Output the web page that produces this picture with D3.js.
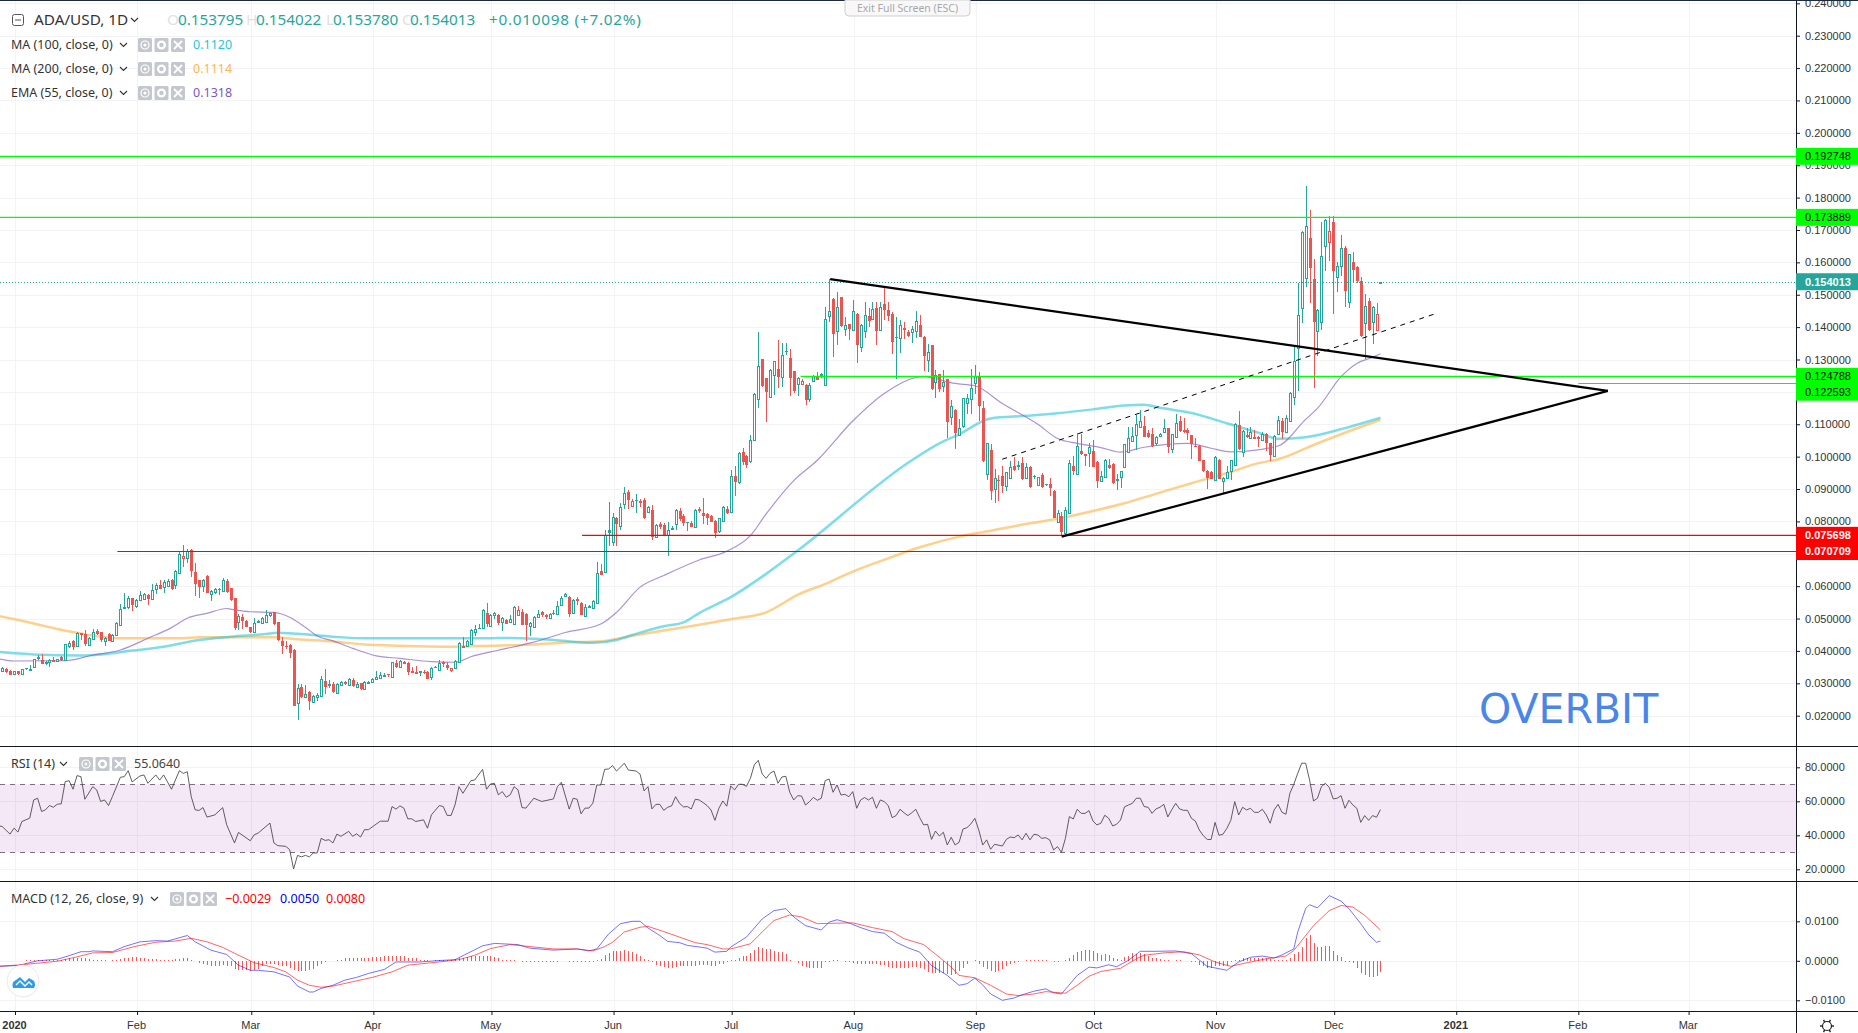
<!DOCTYPE html>
<html>
<head>
<meta charset="utf-8">
<script src="https://cdnjs.cloudflare.com/ajax/libs/d3/7.8.5/d3.min.js"></script>
<style>
  html, body { margin: 0; padding: 0; background: #fff; }
  svg { display: block; }
  text { font-family: "Noto Sans", sans-serif; }
  .axis text { font-family: "Liberation Sans", Arial, sans-serif; font-size: 11px; fill: #333; }
  .axis line { stroke: #131722; }
</style>
</head>
<body>
<svg id="chart" width="1858" height="1033"></svg>
<script>
// all prices are in thousandths of a dollar, days count from 2020-01-01
var firstDay = -3;
var opens = [33.8,34.3,33.8,32.8,33.7,32.8,34.7,34.4,34.8,38.1,
37.2,36.4,36.4,37.2,36.7,38.0,37.0,41.8,43.0,41.6,
45.4,45.2,41.9,43.8,46.1,45.7,43.1,45.2,43.2,44.8,
47.8,53.5,53.4,56.2,54.0,55.9,56.0,57.3,55.9,59.2,
60.4,59.8,60.1,61.9,60.5,64.0,68.5,68.9,71.2,64.3,
61.9,60.0,63.1,57.4,58.2,59.0,58.4,61.6,59.3,56.2,
49.1,50.4,49.3,47.3,45.7,49.3,48.8,49.0,51.1,52.0,
48.8,43.1,41.6,41.8,40.3,23.8,28.9,25.9,27.2,24.4,
25.9,26.2,30.7,29.6,29.8,27.1,29.5,30.4,29.5,30.9,
28.7,30.0,28.1,30.2,30.4,31.1,31.7,32.6,32.8,32.0,
36.3,35.1,36.7,36.4,33.8,33.6,33.5,33.4,33.6,32.0,
35.0,34.3,36.7,35.7,34.0,34.6,36.8,41.6,41.5,42.3,
45.9,47.2,46.8,51.6,47.8,50.9,51.1,
49.1,49.7,48.9,48.6,51.2,52.1,51.5,47.6,47.6,50.4,
51.9,51.2,50.1,51.8,51.3,54.0,57.0,56.8,51.8,55.9,
54.9,51.0,53.5,53.4,55.0,64.8,64.5,77.2,73.8,81.0,
78.5,85.4,89.0,84.9,86.7,86.4,86.7,82.8,83.6,75.1,
79.3,79.0,75.9,77.9,79.2,83.3,81.8,79.8,79.6,78.2,
83.7,82.6,82.4,81.7,80.2,77.0,80.1,83.8,82.8,94.0,92.0,
101.5,100.2,98.5,105.3,117.9,130.1,124.2,118.5,125.2,127.0,
124.5,132.6,130.6,126.3,122.3,122.5,122.1,117.7,123.5,124.7,
125.4,122.0,143.6,148.6,138.7,149.2,139.6,140.9,139.1,144.2,
133.9,138.7,143.4,142.7,146.0,138.9,147.1,145.3,144.0,137.1,
136.7,139.7,138.4,138.4,138.7,140.8,137.1,129.6,134.4,122.9,
125.4,121.7,123.9,112.3,114.4,106.8,109.2,116.4,117.7,122.7,
124.9,114.9,94.6,102.0,90.0,92.9,94.1,91.0,93.5,97.1,
97.2,98.0,93.6,96.8,94.1,91.1,94.3,91.4,91.4,89.4,
79.8,81.7,76.5,82.5,97.1,94.8,101.6,100.8,101.2,101.7,
98.4,92.6,93.6,97.4,97.7,93.0,93.6,96.7,101.3,104.9,
106.7,109.3,109.5,107.2,107.1,104.3,106.3,107.4,108.7,102.3,
105.9,111.0,108.2,108.2,106.6,103.2,103.3,98.9,95.6,95.3,
93.0,99.0,92.5,93.7,95.4,97.4,109.8,101.5,106.6,105.5,
106.2,106.1,104.9,107.0,104.1,100.3,106.9,111.0,107.7,111.3,
118.5,133.6,146.0,155.1,167.4,154.9,138.9,141.7,165.1,166.4,
172.5,155.3,158.7,164.4,147.8,160.1,158.7,154.2,141.4,148.1,
141.6,139.1,153.795];
var highs = [34.9,34.6,34.0,33.8,33.8,34.5,34.8,35.6,37.6,38.7,
39.0,36.9,37.4,38.1,37.6,38.3,42.2,43.2,43.4,46.0,
45.6,46.5,44.2,46.8,46.9,45.9,44.4,45.4,45.2,48.8,
54.5,57.8,57.1,56.5,56.0,58.5,57.9,57.6,60.7,61.0,
61.9,62.0,62.2,62.3,64.9,70.4,72.7,71.4,71.5,67.2,
62.0,62.1,63.6,58.8,59.4,59.3,62.4,62.2,59.5,56.4,
51.5,51.4,49.5,47.5,50.1,49.5,50.5,52.6,51.8,52.1,
49.0,44.2,43.1,42.0,40.5,29.8,29.7,29.5,27.5,26.4,
26.9,32.2,34.3,31.0,30.5,30.0,30.8,30.6,31.5,31.5,
30.3,30.2,30.6,30.6,31.5,33.8,33.4,33.1,33.0,36.7,
37.2,37.2,36.9,36.6,35.1,35.3,33.8,34.1,33.8,34.9,
35.2,37.2,36.9,36.7,34.7,37.1,42.8,44.2,43.4,46.7,
48.0,48.2,52.8,54.7,51.4,52.0,51.3,
50.4,50.0,51.2,53.9,54.0,53.0,51.7,48.9,50.9,52.5,
52.2,51.4,51.6,52.5,55.3,57.1,57.9,57.0,55.9,56.6,
55.1,54.5,54.1,55.7,67.6,66.7,77.4,86.1,82.5,81.5,
85.6,90.5,89.6,86.9,88.5,86.9,87.2,84.7,85.2,79.1,
79.7,79.4,79.9,78.7,83.7,84.2,82.3,79.9,80.0,83.8,
84.4,87.2,82.6,81.9,80.4,81.1,84.7,84.9,96.0,97.0,101.3,
102.6,100.4,106.7,119.7,138.6,130.3,124.4,127.1,129.6,136.0,
135.0,135.0,133.1,126.5,124.5,123.9,122.4,122.6,125.3,126.2,
125.7,146.3,154.8,149.0,150.9,149.4,143.2,141.1,148.4,144.4,
141.0,147.8,145.8,147.8,147.8,147.8,152.3,147.8,144.7,143.2,
142.2,141.7,139.1,140.3,145.1,143.7,137.3,134.8,134.6,126.7,
125.6,126.9,124.1,117.5,114.6,111.5,118.2,119.5,127.0,128.2,
126.2,117.2,104.3,103.9,96.1,94.3,97.1,95.4,98.8,100.0,
98.8,99.8,97.9,97.0,94.2,93.8,94.8,91.6,93.3,89.6,
83.5,83.0,84.4,98.9,100.3,107.2,106.9,100.8,104.1,105.1,
98.6,95.6,99.3,99.2,97.9,94.5,95.7,104.0,109.1,109.1,
112.9,114.4,112.6,108.2,109.0,106.4,107.4,111.5,108.9,107.1,
113.2,112.6,111.8,108.7,106.8,105.9,103.6,99.1,95.8,95.7,
100.2,99.2,93.6,97.1,99.1,110.3,114.2,108.1,108.7,109.1,
108.2,106.3,107.7,107.2,104.3,106.6,112.6,111.8,113.0,120.0,
134.5,153.5,169.6,183.6,176.2,161.0,145.5,172.6,173.3,174.3,
174.3,160.2,168.4,165.0,162.7,163.2,158.9,155.4,150.1,149.1,
146.4,147.3,154.022];
var lows = [33.6,33.2,32.6,32.6,32.6,32.7,34.2,34.3,34.7,37.3,
36.0,35.6,35.1,36.6,36.6,36.9,36.9,41.0,40.3,41.5,
43.4,41.5,41.7,43.6,45.0,42.8,41.6,43.0,43.1,44.6,
47.7,52.8,52.8,52.4,53.4,55.3,55.8,54.2,55.7,57.5,
59.0,57.8,60.0,58.7,59.0,63.9,66.0,67.2,62.9,56.9,
56.2,58.1,57.8,55.5,57.6,57.4,58.2,58.0,55.3,46.6,
46.5,46.8,47.3,45.4,45.5,48.5,48.6,48.9,50.4,48.0,
43.0,39.0,40.5,37.9,23.0,18.7,25.5,25.6,21.7,24.3,
24.6,26.0,26.7,28.4,27.1,27.0,29.3,29.6,29.3,28.8,
28.4,27.9,28.0,30.0,30.0,31.0,31.5,32.0,31.8,31.9,
34.7,35.0,35.9,32.6,33.2,32.9,32.2,33.0,31.3,31.0,
34.6,34.1,35.1,34.1,33.5,34.4,36.7,40.9,41.3,42.1,
44.5,46.8,46.7,47.5,47.6,50.0,48.0,
46.3,48.3,48.7,48.4,51.0,47.9,43.0,44.7,47.4,50.2,
50.4,49.9,50.0,51.2,51.1,53.8,56.8,50.4,51.6,54.3,
51.0,50.8,53.3,53.2,54.8,63.3,64.3,72.3,72.3,72.3,
77.2,83.8,83.9,84.6,82.5,84.6,80.8,82.5,74.3,75.0,
77.7,75.7,69.2,77.2,77.2,80.2,78.7,77.0,78.2,78.0,
82.6,79.2,78.9,79.7,74.9,76.3,79.9,82.3,82.6,87.8,91.5,
97.5,96.5,98.0,105.0,115.1,121.6,110.8,118.2,118.9,121.1,
121.6,131.5,118.7,119.8,118.7,122.2,115.9,117.0,123.3,123.6,
124.2,121.8,141.7,130.8,134.4,140.1,137.2,136.0,138.9,129.0,
132.4,136.5,140.1,142.5,134.4,138.7,142.2,142.0,131.7,124.1,
132.1,136.3,136.8,135.2,136.5,136.8,126.5,126.2,120.5,118.0,
120.0,120.0,105.8,109.7,102.3,106.6,109.0,113.3,113.3,119.5,
111.1,98.3,92.8,86.6,85.8,86.4,88.7,89.5,93.3,95.7,
96.0,92.9,93.4,90.4,93.0,90.9,90.3,90.8,87.9,81.0,
79.6,75.8,75.6,82.3,94.2,94.6,100.6,97.1,96.9,96.7,
90.2,92.4,93.4,96.2,91.5,89.7,90.2,96.5,101.1,104.7,
102.1,109.1,106.0,105.8,103.1,103.3,106.1,107.2,101.0,101.0,
105.7,107.6,107.3,105.1,99.4,102.9,98.6,95.4,89.9,93.0,
92.8,93.0,88.7,93.5,92.8,97.2,102.2,100.0,105.7,105.3,
105.3,102.9,104.7,101.8,98.8,99.8,106.7,105.5,107.5,111.1,
116.0,120.4,141.2,152.5,147.3,121.3,131.2,139.1,157.3,160.4,
144.0,150.9,155.9,146.3,146.0,153.5,153.7,137.0,130.1,138.9,
134.8,138.8,153.780];
var closes = [34.6,33.5,32.7,33.7,32.7,34.4,34.4,34.5,37.4,37.5,
36.1,36.6,37.1,36.7,37.4,37.0,42.0,42.6,41.3,45.5,
44.9,42.0,44.0,46.0,45.2,43.1,44.0,43.1,45.0,48.5,
52.8,53.0,56.2,54.1,55.7,57.3,57.6,56.0,58.7,60.3,
59.2,61.3,61.7,59.1,64.8,69.8,69.2,71.0,64.8,60.5,
59.8,61.8,58.0,58.4,59.0,58.8,61.9,58.2,55.5,47.0,
50.9,49.2,47.5,45.8,48.5,48.7,50.2,51.1,51.6,48.2,
43.1,41.6,41.4,39.4,23.1,28.4,25.7,26.7,24.5,26.1,
26.4,31.3,29.0,29.8,27.3,29.8,30.5,29.8,31.2,29.0,
29.7,28.0,30.4,30.4,31.2,31.8,32.7,32.7,32.6,36.5,
35.1,36.8,36.0,33.5,33.3,33.0,33.7,33.1,31.4,34.7,
34.8,36.4,36.0,34.8,34.7,36.9,42.6,41.1,43.1,46.5,
46.9,47.0,52.5,48.2,51.1,51.6,48.5,
50.2,48.5,49.9,53.7,52.7,48.1,48.0,48.6,50.6,51.4,
50.9,50.7,51.4,51.4,53.9,56.3,57.6,51.6,55.7,55.3,
51.2,53.7,53.9,55.5,64.2,63.5,75.8,76.3,81.5,79.3,
84.4,88.8,86.6,86.3,86.4,85.9,81.0,84.4,75.3,78.9,
78.5,75.9,77.4,78.0,83.5,80.9,79.5,79.7,78.4,83.6,
83.1,81.8,81.3,79.9,76.4,80.9,84.5,82.6,94.0,92.0,101.0,
98.5,97.5,105.1,119.5,128.0,121.8,120.0,126.7,129.4,124.5,
131.3,132.2,124.4,120.0,124.2,123.5,117.5,122.0,125.0,123.8,
124.5,142.4,145.0,137.9,146.1,140.3,140.8,139.5,145.0,134.6,
140.8,143.6,141.9,145.7,138.9,146.1,145.3,143.6,135.2,136.8,
140.8,139.2,137.2,139.3,141.8,137.0,131.1,132.2,120.7,125.2,
120.7,122.9,110.7,115.6,107.4,108.9,118.0,118.0,121.1,124.8,
115.7,98.5,104.1,89.4,93.3,92.6,91.0,95.2,96.8,95.9,
97.4,93.1,96.9,90.6,93.8,93.6,90.5,91.0,90.1,81.2,
82.6,76.8,83.5,97.9,95.6,103.3,100.8,100.3,102.9,96.9,
92.5,94.0,98.9,96.4,91.7,93.1,95.5,103.8,105.7,106.3,
110.0,111.0,106.2,106.0,103.3,106.2,106.9,108.7,102.8,106.9,
110.3,107.8,107.5,107.3,103.8,103.1,98.8,95.6,93.3,93.2,
100.0,93.2,93.4,95.4,98.9,110.1,102.4,107.9,105.9,107.5,
105.5,105.4,106.9,104.2,100.3,106.4,111.3,107.5,112.0,119.8,
129.5,143.7,169.4,171.1,158.0,141.7,145.3,162.0,173.1,169.7,
157.3,158.8,164.3,151.1,162.5,157.6,154.4,137.2,146.5,139.1,
146.2,143.9,154.013];

var ma100Days = [-4,5,17,22,30,38,47,55,64,67,72,81,89,120,123,132,137,147,153,157,165,170,174,182,191,199,228,235,240,248,257,265,274,282,287,291,299,308,316,321,328,338,347];
var ma100Values = [39.7,38.9,38.6,38.9,40.1,41.3,43.4,44.4,45.2,45.6,45.3,44.4,43.9,43.9,44.0,43.8,43.4,42.5,43.4,44.9,47.6,48.8,51.7,56.6,63.8,71.0,98.9,104.1,106.9,111.8,112.6,113.4,114.6,115.8,116.0,115.1,113.5,110.3,107.4,105.5,106.0,108.8,112.0];
var ma200Days = [-4,5,11,16,22,27,43,47,66,72,81,89,98,111,121,132,140,149,157,165,174,182,191,199,207,213,222,230,240,248,257,265,274,282,291,299,308,316,321,330,340,347];
var ma200Values = [50.8,48.5,46.8,45.6,44.4,43.9,43.9,44.2,44.2,43.6,42.9,42.0,41.6,41.3,41.6,42.0,42.6,43.0,44.7,46.3,48.1,49.8,51.9,57.3,61.2,64.5,68.6,72.0,75.3,77.1,79.2,80.8,83.2,85.6,88.9,91.8,94.9,98.0,99.2,103.6,108.3,111.4];
var ema55Days = [-4,0,13,20,27,34,40,44,49,54,55,60,66,70,74,77,81,86,92,98,106,112,116,123,132,140,149,153,159,165,174,181,187,191,198,204,213,221,231,239,244,251,260,265,270,276,281,287,298,304,309,321,328,331,337,341,345,347];
var ema55Values = [37.6,36.9,37.0,38.7,40.3,43.9,47.2,50.1,51.6,53.1,52.9,52.1,51.9,50.4,47.3,44.6,43.1,40.8,38.5,37.7,36.7,36.5,38.2,40.2,42.7,45.7,48.3,51.9,59.7,63.3,68.1,70.8,75.6,82.3,92.6,98.9,111.0,119.5,124.7,122.6,121.9,116.4,110.0,105.6,104.1,102.8,101.4,102.9,104.1,102.6,101.5,103.3,111.5,114.9,124.7,128.8,130.7,131.8];

var rsiDays = [-4,-3,-1,0,1,2,4,5,6,7,8,9,10,11,12,13,14,15,16,17,18,20,21,22,23,24,25,27,28,29,30,32,33,34,36,37,38,40,42,43,44,45,46,47,48,49,51,53,54,56,57,60,61,62,65,66,67,69,70,71,72,73,74,75,76,77,78,79,80,81,82,83,85,86,87,88,89,90,93,95,96,97,98,99,100,101,102,104,105,106,108,109,110,111,112,113,114,116,117,119,120,121,122,123,124,125,126,127,128,129,130,132,134,137,138,139,141,142,143,144,145,146,147,148,149,150,151,152,153,155,156,158,159,160,161,162,163,164,165,166,167,168,169,170,171,172,173,174,175,176,177,178,179,180,181,182,183,184,185,186,187,188,189,190,191,192,193,194,195,196,197,198,199,200,201,202,203,204,205,206,207,208,209,210,211,212,213,214,215,216,217,218,219,220,221,222,223,224,225,226,227,228,229,230,231,232,233,234,235,236,237,238,239,240,241,242,243,244,245,246,247,248,249,251,252,253,254,255,256,257,258,259,260,261,262,263,264,265,266,267,268,269,270,271,272,273,274,275,276,277,278,279,280,281,282,283,284,285,286,287,288,289,290,291,292,293,294,295,296,297,298,299,300,301,302,303,304,305,306,307,308,309,310,311,312,313,314,315,316,317,318,319,320,321,322,323,324,325,326,327,328,329,330,331,332,333,334,335,336,337,338,339,340,341,342,343,344,345,346,347];
var rsiValues = [45.6,45.2,40.7,44.2,41.9,48.1,50.1,60.8,61.8,54,55,57.5,56.5,58.3,58.5,71.6,72.1,67.1,75.1,74.5,61.2,68.6,66.7,59.9,60.8,57.5,62.8,74.1,74.5,78,71.4,74.9,75.5,70.6,75.5,72.5,75.5,67.1,78,76.4,77.4,62.8,55,54.6,56.3,50.7,52,56.3,46.2,35.5,41.7,36.8,40.3,41.3,47.2,35.5,33.9,33.5,31.6,20.2,28.2,27.3,28.2,27.3,29.6,29.6,38.2,37,37.4,35.5,40.7,39.4,42.3,39.4,40.9,39,43.3,43.3,48.3,48.3,56.9,55.4,57.3,56,49.7,49.7,48.1,49.1,44.2,52,57.5,56.9,51.7,51.7,57.9,68.6,64.7,72.1,72.5,78.8,67.1,70.2,70.6,63.8,65.7,62.4,63.8,68.6,66.7,56.3,56,61.8,59.9,61.4,68.6,71.2,55.4,61.8,61.2,52.6,56,56,58.9,69.6,69.6,78.8,79,81,77.8,82.4,78.4,77.8,75.9,66.1,68.6,55.5,58.2,58.2,54.7,56.5,57.3,62.7,58.8,56.7,56.9,55.5,61.2,60.8,59.2,57.5,54.9,48.8,55.9,60.2,57.1,69,66.7,70,70,68.8,73.5,81.4,84.1,76.1,73.5,76.5,77.8,70.6,74.3,74.7,65.3,60.8,63.3,63.1,57.8,59.8,62.3,60.6,61.8,72.2,73.1,65.3,69.6,63.7,64.1,62.7,65.7,55.9,60.8,62.2,60.8,62.4,55.9,60.8,59.8,57.5,50.4,51.6,55.3,53.3,51.6,53.3,55.3,50.4,46.1,46.5,37.6,42.5,39.6,41.8,34.3,38.8,34.3,35.9,43.7,44.5,46.7,50,43.1,34.3,37.3,31.8,34.7,33.7,37.6,39,38.6,40.2,37.3,41.2,37.3,40.6,40.2,38.2,38.6,37.3,31.4,33.3,30,38.2,51,49.6,55.3,52.9,52.9,54.5,48.4,46.1,47.1,51.8,50,45.5,46.5,49,56.7,57.8,58.8,61.8,61.8,56.9,56.5,52.9,55.5,56.5,58.2,50.8,55,58.8,55.5,54.7,54.7,50,48.4,43.1,39.8,37.6,37.5,47.6,40,40.6,44.1,48.8,59.8,52,56.5,54.9,55.9,53.5,53.5,55.3,52,47.1,54.9,58.2,53.5,52.4,64.7,70,76.5,82.4,82.4,72.5,60.2,61.8,68.6,70.6,68.2,61.4,61.8,63.3,55.9,60.6,57.8,55.9,47.6,51.6,48.8,51.6,50.6,55.1];

// MACD numbers are in units of 0.0001
var macdDays = [-4,1,6,11,14,17,19,20,25,28,32,36,39,44,46,50,54,57,60,62,66,70,72,75,76,78,81,84,87,90,94,97,103,107,112,116,119,122,126,128,131,137,143,146,148,151,154,157,159,161,164,166,169,171,174,176,178,181,182,186,190,193,196,198,201,205,207,209,212,215,218,221,224,227,230,233,237,240,242,244,246,248,251,254,256,259,262,264,266,270,273,275,278,280,283,286,288,290,295,299,303,308,311,314,317,320,322,325,326,328,329,331,334,337,339,342,344,346,347];
var macdValues = [-14,-12,0,4,13,23,23,25,23,36,48,51,50,64,48,27,16,-11,-24,-24,-28,-41,-64,-79,-79,-70,-62,-49,-42,-32,-22,-3,-3,0,3,23,38,44,42,41,32,27,30,25,30,68,94,100,100,83,64,49,46,39,35,32,22,24,35,60,106,127,132,111,89,78,98,104,96,84,74,70,47,33,22,-12,-37,-62,-58,-44,-61,-84,-100,-94,-86,-77,-71,-81,-84,-37,-16,-18,-10,-15,1,24,24,24,25,18,-14,-24,-3,9,12,7,15,30,73,132,142,134,165,151,132,94,66,47,50];
var signalDays = [-4,2,11,16,20,25,31,36,41,45,49,53,56,61,66,69,72,75,78,81,86,91,96,100,107,113,117,121,126,131,137,143,147,150,152,155,159,161,165,169,173,176,180,182,187,190,193,197,200,204,208,213,218,223,226,231,235,238,240,244,248,252,255,259,262,267,270,273,276,281,285,287,292,297,301,305,309,313,318,323,325,330,334,337,340,343,347];
var signalValues = [-14,-10,-1,10,20,21,37,47,50,57,48,34,19,-5,-17,-28,-49,-62,-67,-64,-53,-42,-28,-11,-4,3,14,31,41,36,30,30,25,36,47,73,85,87,74,60,46,41,30,30,43,73,102,116,111,94,95,96,84,74,56,41,9,-16,-37,-43,-62,-84,-88,-84,-78,-82,-62,-39,-27,-19,5,14,20,23,15,-3,-14,-5,5,12,26,89,127,140,136,115,78];
var histFirstDay = 3;
var histValues = [2,2,3,3,3,3,3,3,3,3,5,7,7,6,7,7,5,3,2,1,1,0,1,3,5,8,8,9,9,8,7,5,4,4,3,3,2,1,4,5,6,7,3,-1,-5,-8,-11,-13,-13,-12,-11,-12,-14,-21,-23,-24,-24,-25,-23,-20,-12,-9,-9,-9,-10,-12,-13,-17,-23,-25,-26,-25,-24,-20,-14,-8,-3,-1,0,1,3,6,8,8,8,8,8,8,9,9,10,11,11,11,12,12,11,8,6,6,3,2,1,-1,1,2,3,3,3,4,6,8,10,12,13,13,13,13,12,10,7,3,3,2,1,0,-3,-3,-3,-3,-3,-3,-4,-4,-3,-2,-1,-1,-3,-3,-3,-3,-3,-4,-3,1,
5,14,21,25,25,26,27,25,23,17,13,4,2,-3,-10,-14,-16,-17,-17,-15,-14,-14,-14,-14,-12,-11,-11,-10,-12,-12,-9,-8,-4,2,3,8,11,12,19,27,34,32,30,29,25,22,22,17,3,0,-5,-12,-15,-17,-17,-17,-17,-4,-3,2,1,0,-2,-2,-5,-8,-8,-8,-8,-8,-8,-10,-10,-15,-19,-19,-19,-19,-17,-15,-15,-17,-20,-28,-30,-30,-30,-32,-34,-35,-34,-25,-17,-7,-1,1,-8,-16,-22,-26,-28,-26,
-21,-13,-9,-5,-2,0,1,2,3,3,3,3,-1,-2,-2,-1,3,7,15,23,26,28,28,25,19,14,17,14,7,4,3,10,13,19,17,20,17,13,8,7,5,3,1,0,2,2,0,0,-3,-4,-11,-14,-18,-19,-13,-14,-14,-14,-4,1,3,7,7,7,7,7,6,7,5,3,3,3,3,8,17,23,34,57,66,46,34,34,38,38,25,15,10,-2,-4,-5,-17,-32,-36,-40,-41,-39,-29];

var priceTicks = d3.range(20, 241, 10);
var rsiTicks = [20, 40, 60, 80];
var macdTicks = [-100, 0, 100];
var monthDays = [0, 31, 60, 91, 121, 152, 182, 213, 244, 274, 305, 335, 366, 397, 425];
var monthLabels = ["2020", "Feb", "Mar", "Apr", "May", "Jun", "Jul", "Aug", "Sep", "Oct", "Nov", "Dec", "2021", "Feb", "Mar"];

// levels: price, day the line starts, boxed label centre offset, colour, text colour
var levelPrices = [192.748, 173.889, 124.788, 122.593, 75.698, 70.709];
var levelStarts = [-4, -4, 199.5, 397, 144, 26];
var levelColors = ["#00ff00", "#00ff00", "#00ff00", "#00ff00", "#ff0000", "#ff0000"];
var levelTextColors = ["#000", "#000", "#000", "#000", "#fff", "#fff"];
var levelLabelNudge = [0, 0, 0, 8.7, 0, 0];
var lastPrice = 154.013;

var upperTrendDays = [207, 404.5], upperTrendPrices = [154.8, 120.3];
var lowerTrendDays = [265.8, 404.5], lowerTrendPrices = [75.3, 120.3];
var dashedTrendDays = [250.7, 360.6], dashedTrendPrices = [99.2, 144.1];

var W = 1858, H = 1033, axisX = 1796;
var teal = "#26a69a", red = "#ef5350";

var svg = d3.select("#chart");
var x = d3.scaleLinear().domain([0, 425]).range([15, 1688.6]);
var yPrice = d3.scaleLinear().domain([20, 240]).range([715.7, 3.3]);
var yRsi = d3.scaleLinear().domain([20, 80]).range([869.3, 767.3]);
var yMacd = d3.scaleLinear().domain([-100, 100]).range([1000.3, 921.3]);
// bars sit a pixel left of the month grid
function xBar(day) { return x(day) - 1; }

// grid
var grid = svg.append("g").attr("stroke", "#f1f3f6").attr("stroke-width", 1);
function hLines(ticks, scale) {
  grid.append("g").selectAll("line").data(ticks).join("line")
    .attr("x1", 0).attr("x2", axisX)
    .attr("y1", function(d) { return Math.round(scale(d)) + 0.5; })
    .attr("y2", function(d) { return Math.round(scale(d)) + 0.5; });
}
hLines(priceTicks, yPrice);
hLines(rsiTicks, yRsi);
hLines(macdTicks, yMacd);
grid.append("g").selectAll("line").data(monthDays).join("line")
  .attr("y1", 0).attr("y2", 1011)
  .attr("x1", function(d) { return Math.round(x(d)) + 0.5; })
  .attr("x2", function(d) { return Math.round(x(d)) + 0.5; });

// moving averages and indicator lines
function addLine(days, values, scale, color, width, opacity, curve) {
  var line = d3.line()
    .x(function(d, i) { return xBar(days[i]); })
    .y(function(d) { return scale(d); })
    .curve(curve || d3.curveLinear);
  return svg.append("path").datum(values)
    .attr("d", line).attr("fill", "none")
    .attr("stroke", color).attr("stroke-width", width)
    .attr("stroke-opacity", opacity).attr("stroke-linejoin", "round");
}
addLine(ma200Days, ma200Values, yPrice, "#ffb74d", 2.5, 0.65, d3.curveMonotoneX);
addLine(ma100Days, ma100Values, yPrice, "#26c6da", 2.5, 0.6, d3.curveMonotoneX);
addLine(ema55Days, ema55Values, yPrice, "#7e57c2", 1.2, 0.65, d3.curveMonotoneX);

// candles, coloured against the previous close, hollow when close is above open
var bars = closes.map(function(c, i) {
  return { day: firstDay + i, o: opens[i], h: highs[i], l: lows[i], c: c,
    color: (i === 0 || c >= closes[i - 1]) ? teal : red };
});
var candles = svg.append("g").attr("shape-rendering", "crispEdges");
candles.selectAll(".wick").data(bars).join("rect").attr("class", "wick")
  .attr("x", function(d) { return Math.round(xBar(d.day)); })
  .attr("width", 1)
  .attr("y", function(d) { return yPrice(d.h); })
  .attr("height", function(d) { return Math.max(1, yPrice(d.l) - yPrice(d.h)); })
  .attr("fill", function(d) { return d.color; });
candles.selectAll(".body").data(bars).join("rect").attr("class", "body")
  .attr("x", function(d) { return d.c > d.o ? Math.round(xBar(d.day)) - 0.5 : Math.round(xBar(d.day)) - 1; })
  .attr("width", function(d) { return d.c > d.o ? 2 : 3; })
  .attr("y", function(d) { return Math.round(yPrice(Math.max(d.o, d.c))) + (d.c > d.o ? 0.5 : 0); })
  .attr("height", function(d) { return Math.max(1, Math.round(Math.abs(yPrice(d.o) - yPrice(d.c)))); })
  .attr("fill", function(d) { return d.c > d.o ? "#fff" : d.color; })
  .attr("stroke", function(d) { return d.c > d.o ? d.color : "none"; });

// horizontal levels and last price line
svg.append("g").selectAll("line").data(levelPrices).join("line")
  .attr("x1", function(d, i) { return Math.max(0, x(levelStarts[i])); })
  .attr("x2", axisX)
  .attr("y1", function(d) { return yPrice(d); })
  .attr("y2", function(d) { return yPrice(d); })
  .attr("stroke", function(d, i) { return levelColors[i]; })
  .attr("stroke-width", 1.2);
svg.append("line").attr("x1", 0).attr("x2", axisX)
  .attr("y1", Math.round(yPrice(lastPrice)) + 0.5).attr("y2", Math.round(yPrice(lastPrice)) + 0.5)
  .attr("stroke", teal).attr("stroke-dasharray", "1,2");

// trend lines
function addTrend(days, prices, width, dash) {
  var line = d3.line()
    .x(function(d, i) { return x(days[i]); })
    .y(function(d) { return yPrice(d); });
  var p = svg.append("path").datum(prices).attr("d", line)
    .attr("fill", "none").attr("stroke", "#000").attr("stroke-width", width);
  if (dash) p.attr("stroke-dasharray", dash);
}
addTrend(upperTrendDays, upperTrendPrices, 2.2);
addTrend(lowerTrendDays, lowerTrendPrices, 2.2);
addTrend(dashedTrendDays, dashedTrendPrices, 1, "5,5");

svg.append("text").attr("x", 1479).attr("y", 723)
  .style("font-family", "'DejaVu Sans'").style("font-size", "41px")
  .attr("fill", "#4a86e8").text("OVERBIT");

// RSI pane
svg.append("rect").attr("x", 0).attr("width", axisX)
  .attr("y", yRsi(70)).attr("height", yRsi(30) - yRsi(70))
  .attr("fill", "#9c27b0").attr("fill-opacity", 0.11);
[70, 30].forEach(function(v) {
  svg.append("line").attr("x1", 0).attr("x2", axisX)
    .attr("y1", Math.round(yRsi(v)) + 0.5).attr("y2", Math.round(yRsi(v)) + 0.5)
    .attr("stroke", "#7b6f7d").attr("stroke-dasharray", "5,5");
});
addLine(rsiDays, rsiValues, yRsi, "#444", 1, 0.85);

// MACD pane
svg.append("g").attr("shape-rendering", "crispEdges")
  .selectAll("rect").data(histValues).join("rect")
  .attr("x", function(d, i) { return Math.round(xBar(histFirstDay + i)); })
  .attr("width", 1)
  .attr("y", function(d) { return Math.min(yMacd(0), yMacd(d)); })
  .attr("height", function(d) { return Math.abs(yMacd(d) - yMacd(0)); })
  .attr("fill", "#ff5252");
addLine(macdDays, macdValues, yMacd, "#0000ff", 1, 0.55);
addLine(signalDays, signalValues, yMacd, "#ff0000", 1, 0.6);

// axes
function addRightAxis(scale, ticks, format) {
  var g = svg.append("g").attr("class", "axis").attr("transform", "translate(" + axisX + ",0)")
    .call(d3.axisRight(scale).tickValues(ticks).tickSize(4).tickPadding(5).tickFormat(format));
  g.select(".domain").remove();
  return g;
}
addRightAxis(yPrice, priceTicks, function(d) { return (d / 1000).toFixed(6); });
addRightAxis(yRsi, rsiTicks, function(d) { return d.toFixed(4); });
addRightAxis(yMacd, macdTicks, function(d) { return (d / 10000).toFixed(4).replace("-", "\u2212"); });

var timeAxis = svg.append("g").attr("class", "axis").attr("transform", "translate(0,1011)")
  .call(d3.axisBottom(x).tickValues(monthDays).tickSize(4).tickPadding(6)
    .tickFormat(function(d, i) { return monthLabels[i]; }));
timeAxis.select(".domain").remove();
timeAxis.selectAll("text").attr("dx", -1)
  .style("font-weight", function(d, i) { return /^20/.test(monthLabels[i]) ? "bold" : "normal"; });

// pane borders
var borders = svg.append("g").attr("stroke", "#131722").attr("stroke-width", 1).attr("shape-rendering", "crispEdges");
[746.5, 881.5, 1011.5].forEach(function(y) {
  borders.append("line").attr("x1", 0).attr("x2", W).attr("y1", y).attr("y2", y);
});
borders.append("line").attr("x1", axisX + 0.5).attr("x2", axisX + 0.5).attr("y1", 0).attr("y2", H);
borders.append("line").attr("x1", 0).attr("x2", W).attr("y1", 0.5).attr("y2", 0.5).attr("stroke", "#1e2a3a");

// price labels on the axis
function priceBox(price, nudge, fill, textFill, bold) {
  var cy = yPrice(price) + nudge;
  svg.append("rect").attr("x", axisX).attr("width", W - axisX).attr("y", cy - 8.5).attr("height", 17).attr("fill", fill);
  svg.append("text").attr("x", 1805).attr("y", cy + 4)
    .style("font-family", "'Liberation Sans'").style("font-size", "11px")
    .style("font-weight", bold ? "bold" : "normal").attr("fill", textFill)
    .text((price / 1000).toFixed(6));
}
levelPrices.forEach(function(p, i) {
  priceBox(p, levelLabelNudge[i], levelColors[i], levelTextColors[i], levelTextColors[i] === "#fff");
});
priceBox(lastPrice, 0, teal, "#fff", true);

// legend
function label(xPos, yPos, str, color, size) {
  return svg.append("text").attr("x", xPos).attr("y", yPos)
    .style("font-size", (size || 12.5) + "px").attr("fill", color || "#333").text(str);
}
function chevron(xPos, yPos) {
  svg.append("path").attr("d", "M" + xPos + "," + yPos + "l3.5,3.5l3.5,-3.5")
    .attr("fill", "none").attr("stroke", "#333").attr("stroke-width", 1.1);
}
function buttons(xPos, yPos) {
  [0, 1, 2].forEach(function(k) {
    var bx = xPos + k * 16.5;
    svg.append("rect").attr("x", bx).attr("y", yPos).attr("width", 14).attr("height", 14).attr("rx", 1.5).attr("fill", "#c4c7ce");
    if (k === 0) {
      svg.append("circle").attr("cx", bx + 7).attr("cy", yPos + 7).attr("r", 4).attr("fill", "none").attr("stroke", "#fff").attr("stroke-width", 1.2);
      svg.append("circle").attr("cx", bx + 7).attr("cy", yPos + 7).attr("r", 1.5).attr("fill", "#fff");
    } else if (k === 1) {
      svg.append("circle").attr("cx", bx + 7).attr("cy", yPos + 7).attr("r", 3.4).attr("fill", "none").attr("stroke", "#fff").attr("stroke-width", 2.4);
    } else {
      svg.append("path").attr("d", "M" + (bx + 3) + "," + (yPos + 3) + "l8,8m0,-8l-8,8").attr("stroke", "#fff").attr("stroke-width", 1.8);
    }
  });
}

svg.append("rect").attr("x", 12.5).attr("y", 14.5).attr("width", 11).attr("height", 11).attr("rx", 2).attr("fill", "#fff").attr("stroke", "#555");
svg.append("line").attr("x1", 15).attr("x2", 21).attr("y1", 20).attr("y2", 20).attr("stroke", "#555");
label(34, 25, "ADA/USD, 1D", "#333", 15.3);
chevron(131, 18);
var ohlcNames = ["O", "H", "L", "C"];
var ohlcTexts = ["0.153795", "0.154022", "0.153780", "0.154013"];
var ohlcNameX = [167, 246, 326, 402];
var ohlcValueX = [178, 256, 333, 410];
ohlcNames.forEach(function(n, i) {
  label(ohlcNameX[i], 25, n, "#dfe1e5", 15.3);
  label(ohlcValueX[i], 25, ohlcTexts[i], teal, 15.3);
});
label(489, 25, "+0.010098 (+7.02%)", teal, 15.3).style("letter-spacing", "0.75px");

var legendNames = ["MA (100, close, 0)", "MA (200, close, 0)", "EMA (55, close, 0)"];
var legendValues = ["0.1120", "0.1114", "0.1318"];
var legendColors = ["#26c6da", "#ffb74d", "#7e57c2"];
var legendRows = [49, 73, 97];
legendNames.forEach(function(n, i) {
  label(11, legendRows[i], n, "#333");
  chevron(120, legendRows[i] - 6);
  buttons(138, legendRows[i] - 11);
  label(193, legendRows[i], legendValues[i], legendColors[i]);
});

label(11, 768, "RSI (14)", "#333");
chevron(60, 762);
buttons(79, 757);
label(134, 768, "55.0640", "#444");

label(11, 903, "MACD (12, 26, close, 9)", "#333");
chevron(151, 897);
buttons(170, 892);
label(225, 903, "\u22120.0029", "#ff0000");
label(280, 903, "0.0050", "#0000ff");
label(326, 903, "0.0080", "#ff0000");

// fullscreen hint
svg.append("path").attr("d", "M845,0v12a4,4 0 0 0 4,4h117a4,4 0 0 0 4,-4v-12z").attr("fill", "#f8f8f8").attr("stroke", "#cfcfcf");
label(907.5, 12, "Exit Full Screen (ESC)", "#a8a8a8", 10.5).attr("text-anchor", "middle");

// logo badge
svg.append("circle").attr("cx", 23).attr("cy", 981).attr("r", 16).attr("fill", "#fff").attr("stroke", "#e8eaed").attr("stroke-width", 1);
svg.append("path").attr("d", "M13,988q-2,-6 3,-8l4,-3l5,5l4,-4l5,3q2,4 0,7z").attr("fill", "#2e9be6");
svg.append("path").attr("d", "M16,985l4,-4l5,5l4,-4l3,3").attr("fill", "none").attr("stroke", "#fff").attr("stroke-width", 1.4);

// settings gear
var gx = 1827, gy = 1026;
svg.append("circle").attr("cx", gx).attr("cy", gy).attr("r", 4.5).attr("fill", "none").attr("stroke", "#222").attr("stroke-width", 1.2);
d3.range(0, 360, 60).forEach(function(a) {
  var r = a * Math.PI / 180;
  svg.append("line").attr("x1", gx + 4.5 * Math.cos(r)).attr("y1", gy + 4.5 * Math.sin(r))
    .attr("x2", gx + 7 * Math.cos(r)).attr("y2", gy + 7 * Math.sin(r))
    .attr("stroke", "#222").attr("stroke-width", 1.4);
});
</script>
</body>
</html>
